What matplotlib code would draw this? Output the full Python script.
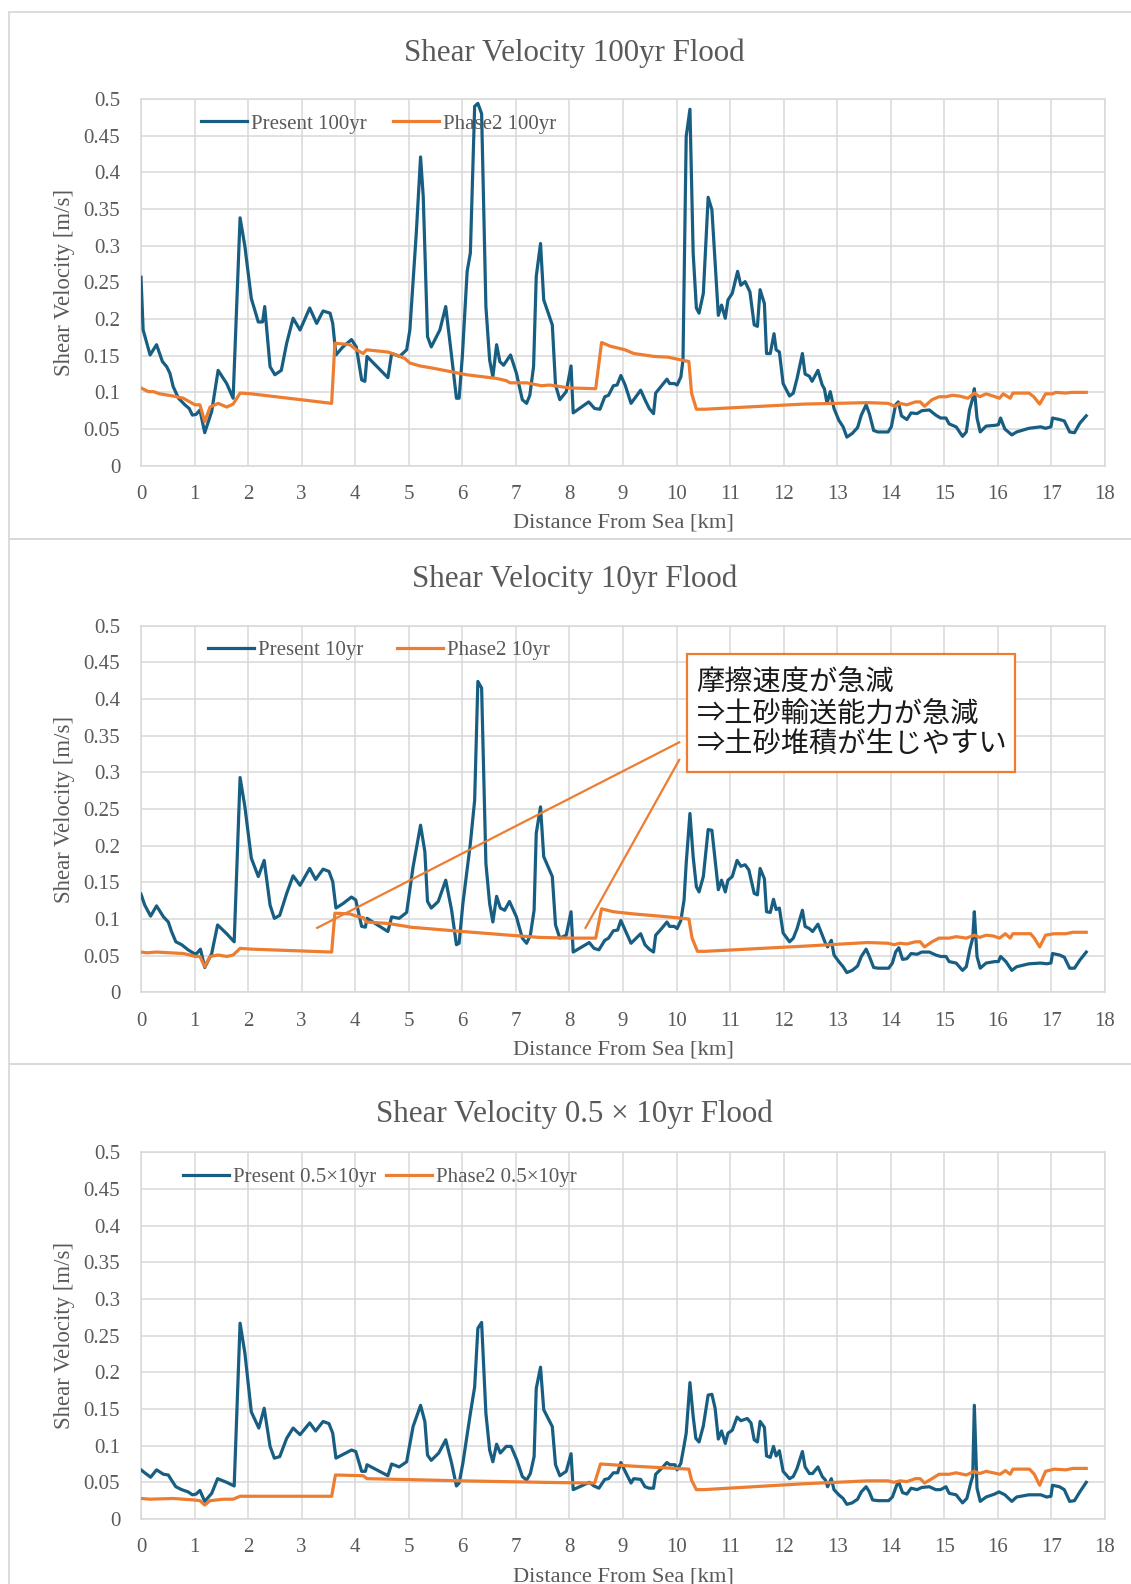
import matplotlib
matplotlib.use("Agg")
import matplotlib.pyplot as plt
from matplotlib.patches import Rectangle
from matplotlib.ticker import FuncFormatter

plt.rcParams['font.family'] = ['Liberation Serif', 'DejaVu Serif']

# ---------------- data: shear velocity [m/s] vs distance from sea [km] ----------------
# 100-year flood
km_present_100 = [0, 0.04, 0.17, 0.29, 0.40, 0.48, 0.54, 0.60, 0.70, 0.82, 0.90, 0.96, 1.03, 1.10, 1.19,
                  1.32, 1.44, 1.60, 1.72, 1.85, 1.94, 2.06, 2.19, 2.27, 2.31, 2.41, 2.50, 2.62, 2.72, 2.84,
                  2.97, 3.15, 3.28, 3.40, 3.53, 3.58, 3.64, 3.77, 3.93, 4.02, 4.12, 4.18, 4.22, 4.61, 4.68,
                  4.83, 4.96, 5.02, 5.14, 5.22, 5.27, 5.35, 5.42, 5.58, 5.69, 5.80, 5.89, 5.94, 6.00, 6.09,
                  6.15, 6.23, 6.29, 6.36, 6.44, 6.51, 6.57, 6.64, 6.70, 6.77, 6.90, 7.01, 7.12, 7.20, 7.26,
                  7.33, 7.38, 7.46, 7.52, 7.68, 7.74, 7.82, 7.94, 8.03, 8.07, 8.36, 8.47, 8.57, 8.66, 8.73,
                  8.82, 8.89, 8.96, 9.04, 9.15, 9.33, 9.41, 9.49, 9.57, 9.61, 9.71, 9.82, 9.87, 9.96, 10.01,
                  10.08, 10.12, 10.18, 10.25, 10.31, 10.37, 10.42, 10.50, 10.59, 10.66, 10.78, 10.84, 10.91,
                  10.96, 11.04, 11.14, 11.20, 11.28, 11.37, 11.45, 11.51, 11.56, 11.64, 11.68, 11.75, 11.82,
                  11.86, 11.92, 11.99, 12.11, 12.18, 12.25, 12.35, 12.40, 12.48, 12.53, 12.64, 12.72, 12.76,
                  12.81, 12.87, 12.94, 13.03, 13.11, 13.18, 13.28, 13.38, 13.45, 13.54, 13.60, 13.68, 13.76,
                  13.95, 14.01, 14.09, 14.14, 14.20, 14.30, 14.38, 14.49, 14.58, 14.72, 14.84, 14.93, 15.03,
                  15.09, 15.22, 15.34, 15.41, 15.47, 15.53, 15.56, 15.61, 15.67, 15.78, 15.94, 16.01, 16.05,
                  16.13, 16.26, 16.35, 16.58, 16.80, 16.89, 16.99, 17.02, 17.15, 17.24, 17.34, 17.43, 17.53,
                  17.65]
v_present_100 = [0.257, 0.185, 0.151, 0.165, 0.142, 0.135, 0.126, 0.108, 0.092, 0.083, 0.078, 0.069, 0.070,
                 0.076, 0.045, 0.074, 0.130, 0.112, 0.092, 0.338, 0.299, 0.228, 0.196, 0.196, 0.217, 0.135,
                 0.124, 0.130, 0.167, 0.201, 0.185, 0.215, 0.194, 0.211, 0.208, 0.194, 0.151, 0.162, 0.172,
                 0.162, 0.117, 0.115, 0.149, 0.120, 0.153, 0.149, 0.158, 0.185, 0.317, 0.421, 0.367, 0.176,
                 0.162, 0.185, 0.217, 0.149, 0.092, 0.092, 0.149, 0.265, 0.290, 0.490, 0.494, 0.480, 0.217,
                 0.144, 0.121, 0.165, 0.142, 0.137, 0.151, 0.126, 0.090, 0.085, 0.096, 0.135, 0.258, 0.303,
                 0.226, 0.192, 0.110, 0.090, 0.101, 0.136, 0.072, 0.087, 0.078, 0.077, 0.094, 0.096, 0.109,
                 0.110, 0.123, 0.110, 0.085, 0.103, 0.090, 0.078, 0.071, 0.099, 0.108, 0.118, 0.112, 0.112,
                 0.110, 0.121, 0.144, 0.449, 0.486, 0.290, 0.215, 0.208, 0.235, 0.366, 0.349, 0.205, 0.219,
                 0.201, 0.226, 0.235, 0.265, 0.246, 0.251, 0.237, 0.192, 0.190, 0.240, 0.221, 0.153, 0.153,
                 0.180, 0.158, 0.155, 0.112, 0.095, 0.099, 0.119, 0.153, 0.125, 0.122, 0.115, 0.130, 0.110,
                 0.105, 0.085, 0.101, 0.078, 0.062, 0.053, 0.039, 0.044, 0.052, 0.069, 0.083, 0.071, 0.048,
                 0.046, 0.046, 0.053, 0.083, 0.087, 0.068, 0.063, 0.072, 0.071, 0.075, 0.076, 0.069, 0.065,
                 0.065, 0.057, 0.053, 0.040, 0.046, 0.076, 0.092, 0.105, 0.065, 0.046, 0.054, 0.055, 0.056,
                 0.065, 0.050, 0.042, 0.046, 0.051, 0.053, 0.051, 0.053, 0.065, 0.063, 0.061, 0.046, 0.045,
                 0.058, 0.068]

km_phase2_100 = [0, 0.14, 0.23, 0.35, 0.60, 0.79, 0.91, 1.01, 1.10, 1.19, 1.29, 1.44, 1.60, 1.72, 1.85,
                 2.06, 3.56, 3.62, 3.90, 4.02, 4.15, 4.21, 4.61, 4.77, 4.93, 5.02, 5.21, 5.45, 6.08, 6.64,
                 6.82, 6.89, 7.20, 7.48, 7.63, 8.00, 8.49, 8.60, 8.76, 9.04, 9.20, 9.58, 9.84, 10.23, 10.28,
                 10.37, 10.53, 10.78, 12.37, 13.57, 13.95, 14.08, 14.17, 14.30, 14.46, 14.55, 14.63, 14.77,
                 14.90, 15.03, 15.15, 15.28, 15.44, 15.56, 15.66, 15.78, 15.91, 16.03, 16.10, 16.23, 16.28,
                 16.58, 16.67, 16.78, 16.89, 17.02, 17.08, 17.27, 17.37, 17.65]
v_phase2_100 = [0.106, 0.101, 0.101, 0.098, 0.095, 0.092, 0.087, 0.083, 0.083, 0.060, 0.080, 0.085, 0.080,
                0.084, 0.099, 0.098, 0.085, 0.167, 0.165, 0.158, 0.153, 0.158, 0.155, 0.151, 0.146, 0.140,
                0.136, 0.133, 0.124, 0.119, 0.116, 0.113, 0.113, 0.109, 0.110, 0.106, 0.105, 0.168, 0.163,
                0.158, 0.153, 0.149, 0.148, 0.142, 0.099, 0.077, 0.077, 0.078, 0.084, 0.086, 0.085, 0.081,
                0.085, 0.083, 0.087, 0.087, 0.081, 0.090, 0.094, 0.094, 0.096, 0.095, 0.092, 0.099, 0.094,
                0.098, 0.095, 0.092, 0.098, 0.092, 0.099, 0.099, 0.094, 0.084, 0.098, 0.098, 0.100, 0.099,
                0.100, 0.100]

# 10-year flood
km_present_10 = [0, 0.07, 0.18, 0.29, 0.42, 0.51, 0.57, 0.65, 0.76, 0.88, 0.99, 1.04, 1.11, 1.19, 1.32,
                 1.43, 1.60, 1.74, 1.85, 1.94, 2.06, 2.19, 2.30, 2.41, 2.49, 2.59, 2.72, 2.84, 2.97, 3.15,
                 3.26, 3.40, 3.51, 3.58, 3.64, 3.77, 3.93, 4.01, 4.12, 4.19, 4.22, 4.61, 4.68, 4.82, 4.96,
                 5.08, 5.22, 5.30, 5.35, 5.42, 5.55, 5.69, 5.80, 5.89, 5.94, 6.01, 6.15, 6.23, 6.29, 6.36,
                 6.44, 6.51, 6.57, 6.64, 6.71, 6.79, 6.88, 7.01, 7.12, 7.20, 7.27, 7.34, 7.38, 7.46, 7.52,
                 7.68, 7.74, 7.82, 7.94, 8.03, 8.07, 8.37, 8.46, 8.55, 8.66, 8.73, 8.82, 8.90, 8.96, 9.04,
                 9.15, 9.33, 9.41, 9.49, 9.57, 9.61, 9.72, 9.82, 9.87, 9.96, 10.01, 10.08, 10.14, 10.18,
                 10.25, 10.31, 10.37, 10.42, 10.50, 10.59, 10.66, 10.78, 10.84, 10.91, 10.96, 11.04, 11.13,
                 11.20, 11.28, 11.35, 11.45, 11.51, 11.56, 11.64, 11.68, 11.75, 11.81, 11.86, 11.92, 11.99,
                 12.11, 12.18, 12.25, 12.35, 12.40, 12.48, 12.54, 12.64, 12.72, 12.78, 12.82, 12.89, 12.94,
                 13.03, 13.11, 13.18, 13.28, 13.38, 13.45, 13.54, 13.60, 13.68, 13.76, 13.96, 14.03, 14.09,
                 14.15, 14.22, 14.30, 14.38, 14.49, 14.58, 14.72, 14.84, 14.93, 15.03, 15.09, 15.22, 15.34,
                 15.41, 15.48, 15.53, 15.56, 15.61, 15.67, 15.78, 15.94, 16.01, 16.05, 16.15, 16.26, 16.35,
                 16.58, 16.80, 16.91, 16.99, 17.02, 17.15, 17.24, 17.34, 17.43, 17.53, 17.65]
v_present_10 = [0.134, 0.119, 0.104, 0.118, 0.103, 0.096, 0.083, 0.069, 0.065, 0.058, 0.053, 0.053, 0.059,
                0.034, 0.053, 0.092, 0.080, 0.069, 0.293, 0.253, 0.183, 0.158, 0.180, 0.119, 0.101, 0.105,
                0.135, 0.159, 0.146, 0.169, 0.154, 0.168, 0.165, 0.151, 0.115, 0.121, 0.130, 0.126, 0.090,
                0.089, 0.101, 0.083, 0.103, 0.101, 0.109, 0.171, 0.228, 0.192, 0.124, 0.115, 0.124, 0.153,
                0.112, 0.065, 0.067, 0.121, 0.203, 0.262, 0.424, 0.415, 0.176, 0.121, 0.096, 0.131, 0.115,
                0.112, 0.124, 0.103, 0.074, 0.067, 0.078, 0.112, 0.217, 0.253, 0.185, 0.158, 0.092, 0.074,
                0.078, 0.110, 0.055, 0.068, 0.060, 0.058, 0.071, 0.074, 0.084, 0.085, 0.098, 0.085, 0.067,
                0.080, 0.065, 0.059, 0.055, 0.078, 0.087, 0.096, 0.090, 0.090, 0.087, 0.098, 0.126, 0.176,
                0.244, 0.185, 0.144, 0.137, 0.158, 0.222, 0.221, 0.140, 0.153, 0.137, 0.153, 0.158, 0.180,
                0.172, 0.174, 0.167, 0.135, 0.133, 0.169, 0.155, 0.110, 0.109, 0.127, 0.113, 0.115, 0.081,
                0.069, 0.074, 0.087, 0.112, 0.090, 0.087, 0.083, 0.093, 0.078, 0.067, 0.062, 0.071, 0.051,
                0.042, 0.035, 0.027, 0.030, 0.036, 0.049, 0.059, 0.049, 0.034, 0.033, 0.033, 0.040, 0.055,
                0.061, 0.045, 0.046, 0.053, 0.052, 0.055, 0.055, 0.051, 0.049, 0.049, 0.042, 0.040, 0.030,
                0.035, 0.060, 0.074, 0.110, 0.049, 0.033, 0.040, 0.042, 0.042, 0.049, 0.042, 0.030, 0.035,
                0.039, 0.040, 0.039, 0.040, 0.053, 0.051, 0.048, 0.033, 0.033, 0.044, 0.055]

km_phase2_10 = [0, 0.11, 0.29, 0.79, 0.91, 1.01, 1.10, 1.19, 1.29, 1.44, 1.60, 1.72, 1.85, 2.06, 3.56,
                3.62, 3.90, 4.02, 4.15, 4.21, 4.61, 4.96, 5.02, 6.01, 6.88, 7.44, 8.00, 8.49, 8.60, 8.82,
                9.20, 9.84, 10.23, 10.29, 10.39, 10.53, 12.37, 13.57, 13.95, 14.06, 14.17, 14.30, 14.46,
                14.55, 14.63, 14.77, 14.90, 15.09, 15.22, 15.41, 15.56, 15.66, 15.78, 15.91, 16.03, 16.14,
                16.23, 16.28, 16.61, 16.68, 16.78, 16.89, 17.05, 17.27, 17.40, 17.65]
v_phase2_10 = [0.055, 0.054, 0.055, 0.053, 0.051, 0.049, 0.049, 0.035, 0.049, 0.051, 0.049, 0.051, 0.060,
               0.059, 0.055, 0.108, 0.107, 0.104, 0.102, 0.096, 0.094, 0.090, 0.089, 0.083, 0.078, 0.075,
               0.074, 0.074, 0.114, 0.110, 0.107, 0.103, 0.100, 0.074, 0.056, 0.056, 0.063, 0.068, 0.067,
               0.065, 0.067, 0.066, 0.069, 0.069, 0.062, 0.069, 0.074, 0.074, 0.076, 0.074, 0.078, 0.075,
               0.078, 0.077, 0.074, 0.080, 0.074, 0.080, 0.080, 0.074, 0.062, 0.078, 0.080, 0.080, 0.082,
               0.082]

# 0.5 x 10-year flood
km_present_05 = [0, 0.07, 0.18, 0.29, 0.42, 0.51, 0.57, 0.65, 0.76, 0.88, 0.96, 1.03, 1.10, 1.19, 1.32,
                 1.43, 1.60, 1.74, 1.85, 1.94, 2.06, 2.20, 2.30, 2.41, 2.49, 2.59, 2.72, 2.84, 2.97, 3.15,
                 3.26, 3.40, 3.51, 3.58, 3.64, 3.93, 4.01, 4.12, 4.19, 4.22, 4.61, 4.68, 4.82, 4.96, 5.08,
                 5.22, 5.30, 5.35, 5.42, 5.56, 5.69, 5.80, 5.89, 5.94, 6.01, 6.15, 6.23, 6.29, 6.36, 6.44,
                 6.51, 6.57, 6.64, 6.71, 6.82, 6.91, 7.02, 7.12, 7.20, 7.27, 7.34, 7.38, 7.46, 7.52, 7.68,
                 7.74, 7.82, 7.94, 8.03, 8.07, 8.37, 8.46, 8.55, 8.66, 8.73, 8.82, 8.90, 8.96, 9.04, 9.15,
                 9.20, 9.33, 9.41, 9.49, 9.57, 9.61, 9.72, 9.82, 9.87, 9.97, 10.01, 10.08, 10.14, 10.18,
                 10.25, 10.31, 10.36, 10.42, 10.50, 10.59, 10.66, 10.72, 10.78, 10.84, 10.91, 10.96, 11.04,
                 11.13, 11.20, 11.32, 11.39, 11.45, 11.51, 11.56, 11.64, 11.68, 11.75, 11.81, 11.86, 11.92,
                 11.99, 12.11, 12.18, 12.25, 12.35, 12.40, 12.48, 12.54, 12.64, 12.72, 12.78, 12.82, 12.89,
                 12.94, 13.03, 13.11, 13.18, 13.28, 13.38, 13.45, 13.54, 13.60, 13.66, 13.76, 13.96, 14.03,
                 14.11, 14.15, 14.22, 14.30, 14.38, 14.49, 14.58, 14.72, 14.84, 14.93, 15.03, 15.09, 15.22,
                 15.34, 15.42, 15.50, 15.53, 15.56, 15.61, 15.67, 15.78, 15.94, 16.02, 16.13, 16.26, 16.35,
                 16.58, 16.80, 16.91, 16.99, 17.02, 17.15, 17.24, 17.34, 17.43, 17.53, 17.65]
v_present_05 = [0.067, 0.063, 0.057, 0.067, 0.061, 0.060, 0.053, 0.044, 0.040, 0.037, 0.033, 0.034, 0.039,
                0.024, 0.035, 0.055, 0.050, 0.045, 0.267, 0.226, 0.146, 0.124, 0.151, 0.099, 0.083, 0.085,
                0.110, 0.124, 0.115, 0.131, 0.120, 0.133, 0.130, 0.117, 0.083, 0.094, 0.092, 0.065, 0.065,
                0.074, 0.059, 0.075, 0.071, 0.078, 0.126, 0.155, 0.133, 0.087, 0.080, 0.090, 0.108, 0.076,
                0.045, 0.049, 0.076, 0.144, 0.180, 0.260, 0.268, 0.144, 0.094, 0.078, 0.102, 0.090, 0.099,
                0.099, 0.080, 0.058, 0.053, 0.062, 0.085, 0.178, 0.207, 0.149, 0.126, 0.074, 0.059, 0.065,
                0.089, 0.040, 0.050, 0.045, 0.042, 0.054, 0.055, 0.063, 0.063, 0.077, 0.065, 0.049, 0.055,
                0.054, 0.044, 0.042, 0.042, 0.061, 0.069, 0.077, 0.074, 0.074, 0.067, 0.076, 0.100, 0.117,
                0.186, 0.140, 0.110, 0.105, 0.127, 0.169, 0.170, 0.151, 0.109, 0.120, 0.103, 0.117, 0.121,
                0.139, 0.134, 0.137, 0.131, 0.108, 0.105, 0.133, 0.125, 0.086, 0.084, 0.099, 0.086, 0.093,
                0.065, 0.055, 0.058, 0.069, 0.092, 0.071, 0.062, 0.062, 0.071, 0.058, 0.053, 0.044, 0.055,
                0.040, 0.033, 0.028, 0.020, 0.022, 0.027, 0.037, 0.044, 0.037, 0.026, 0.025, 0.025, 0.030,
                0.046, 0.050, 0.036, 0.034, 0.042, 0.040, 0.043, 0.044, 0.040, 0.040, 0.044, 0.035, 0.033,
                0.022, 0.028, 0.051, 0.058, 0.155, 0.042, 0.024, 0.030, 0.034, 0.037, 0.033, 0.024, 0.030,
                0.033, 0.033, 0.030, 0.031, 0.046, 0.044, 0.040, 0.024, 0.025, 0.037, 0.050]

km_phase2_05 = [0, 0.17, 0.60, 0.79, 0.98, 1.10, 1.19, 1.29, 1.54, 1.72, 1.85, 2.16, 3.56, 3.63, 4.15,
                4.22, 6.01, 7.51, 8.47, 8.58, 9.20, 10.23, 10.28, 10.37, 10.50, 12.37, 13.57, 13.95, 14.06,
                14.17, 14.30, 14.46, 14.55, 14.63, 14.77, 14.90, 15.09, 15.22, 15.41, 15.56, 15.66, 15.78,
                15.91, 16.04, 16.14, 16.23, 16.28, 16.59, 16.68, 16.78, 16.89, 17.05, 17.27, 17.40, 17.65]
v_phase2_05 = [0.028, 0.027, 0.028, 0.027, 0.026, 0.025, 0.019, 0.025, 0.027, 0.027, 0.031, 0.031, 0.031,
               0.060, 0.059, 0.055, 0.052, 0.050, 0.049, 0.075, 0.072, 0.068, 0.053, 0.040, 0.040, 0.048,
               0.052, 0.052, 0.050, 0.052, 0.051, 0.055, 0.055, 0.049, 0.055, 0.061, 0.061, 0.063, 0.060,
               0.065, 0.062, 0.065, 0.063, 0.061, 0.066, 0.061, 0.068, 0.068, 0.061, 0.046, 0.065, 0.068,
               0.067, 0.069, 0.069]

titles = ["Shear Velocity 100yr Flood", "Shear Velocity 10yr Flood", "Shear Velocity 0.5 \u00d7 10yr Flood"]
present_labels = ["Present 100yr", "Present 10yr", "Present 0.5\u00d710yr"]
phase2_labels = ["Phase2 100yr", "Phase2 10yr", "Phase2 0.5\u00d710yr"]
note_lines = ["摩擦速度が急減", "\u21d2土砂輸送能力が急減", "\u21d2土砂堆積が生じやすい"]
x_ticks = list(range(0, 19))
y_ticks = [0, 0.05, 0.1, 0.15, 0.2, 0.25, 0.3, 0.35, 0.4, 0.45, 0.5]

series = [
    (km_present_100, v_present_100, km_phase2_100, v_phase2_100),
    (km_present_10, v_present_10, km_phase2_10, v_phase2_10),
    (km_present_05, v_present_05, km_phase2_05, v_phase2_05),
]

# ---------------- layout (pixel geometry of the 1131 x 1584 canvas) ----------------
W, H = 1131, 1584
BLUE = "#185E82"
ORANGE = "#ED7D31"
GRID = "#D9D9D9"
TEXT = "#595959"

fig = plt.figure(figsize=(W / 100, H / 100), dpi=100)


def fx(px):
    return px / W


def fy(py):
    return 1 - py / H


ax_left, ax_right = 141, 1105
ax_w = ax_right - ax_left
ax_tops = [99, 625.7, 1152.3]
ax_h = 366.7
title_y = [53.5, 579.6, 1114]
frame_tops = [12, 539, 1064]
frame_bottoms = [539, 1064, 1600]
legend_x = [201, 208.3, 183.3]
legend_colsp = [1.25, 1.6, 0.45]

for top, bot in zip(frame_tops, frame_bottoms):
    fig.add_artist(Rectangle((fx(9), fy(bot)), fx(1200), (bot - top) / H,
                             transform=fig.transFigure, fill=False, ec=GRID, lw=1.3))

axes = []
for i, (kp, vp, k2, v2) in enumerate(series):
    top = ax_tops[i]
    ax = fig.add_axes([fx(ax_left), fy(top + ax_h), ax_w / W, ax_h / H])
    axes.append(ax)
    l1, = ax.plot(kp, vp, color=BLUE, lw=2.3, solid_joinstyle="round", zorder=3,
                  label=present_labels[i])
    l2, = ax.plot(k2, v2, color=ORANGE, lw=2.3, solid_joinstyle="round", zorder=3,
                  label=phase2_labels[i])
    ax.set_xlim(0, 18)
    ax.set_ylim(0, 0.5)
    ax.set_xticks(x_ticks)
    ax.set_yticks(y_ticks)
    ax.yaxis.set_major_formatter(FuncFormatter(lambda v, p: "%g" % round(v, 2)))
    ax.grid(True, color=GRID, lw=1.1, zorder=0)
    ax.set_axisbelow(True)
    for s in ax.spines.values():
        s.set_color(GRID)
        s.set_linewidth(1.1)
    ax.tick_params(length=0, labelsize=15, labelcolor=TEXT)
    ax.tick_params(axis="x", pad=14)
    ax.tick_params(axis="y", pad=15)
    ax.set_xlabel("Distance From Sea [km]", fontsize=16.2, color=TEXT)
    ax.xaxis.label.set_va("center")
    ax.xaxis.set_label_coords(0.5, -0.157)
    ax.set_ylabel("Shear Velocity [m/s]", fontsize=16.4, color=TEXT)
    ax.yaxis.label.set_va("center")
    ax.yaxis.set_label_coords(-0.0795, 0.5)
    ax.legend(handles=[l1, l2], ncol=2, loc="center left",
              bbox_to_anchor=((legend_x[i] - ax_left) / ax_w, 0.932),
              frameon=False, fontsize=15, labelcolor=TEXT, borderpad=0, borderaxespad=0,
              handlelength=2.2, handletextpad=0.2, columnspacing=legend_colsp[i])
    fig.text(fx(574.6), fy(title_y[i]), titles[i], ha="center", va="center",
             fontsize=22.3, color=TEXT)

# ---------------- callout on the 10-year panel ----------------
ax2 = axes[1]
ax2.plot([3.29, 10.05], [0.088, 0.341], color=ORANGE, lw=1.6, clip_on=False, zorder=4)
ax2.plot([8.30, 10.05], [0.088, 0.317], color=ORANGE, lw=1.6, clip_on=False, zorder=4)
fig.add_artist(Rectangle((fx(687), fy(772.3)), (1015 - 687) / W, (772.3 - 654) / H,
                         transform=fig.transFigure, fc="white", ec=ORANGE, lw=1.6, zorder=5))
for j, line in enumerate(note_lines):
    fig.text(fx(696.5), fy(681.5 + 31.7 * j), line, ha="left", va="center", fontsize=20.3,
             color="#1a1a1a", family=["Noto Sans CJK JP", "DejaVu Sans"], zorder=6)

fig.savefig("out.png", dpi=100)
